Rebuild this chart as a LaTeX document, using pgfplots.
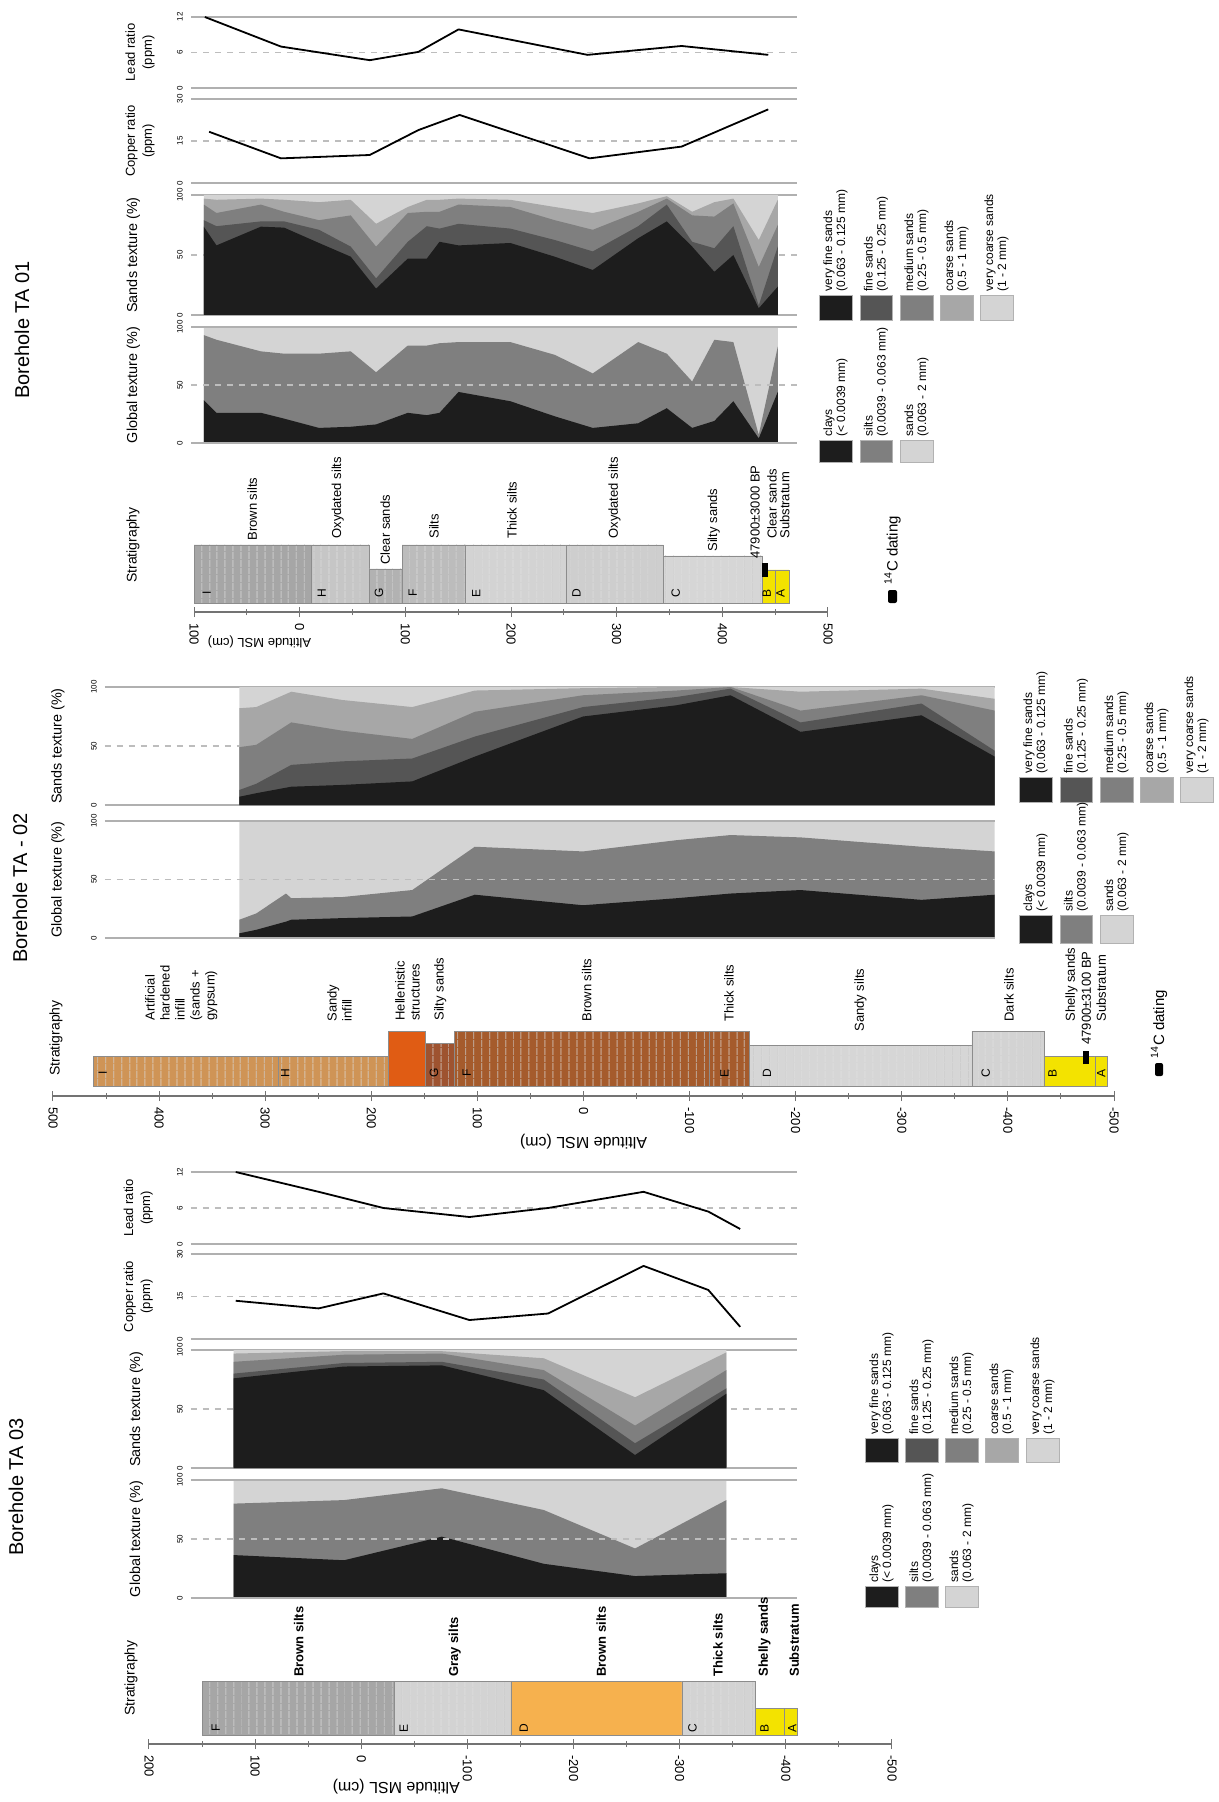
\documentclass[border=0pt]{standalone}
\usepackage{fontspec}
\setmainfont{Liberation Sans}
\usepackage{pgfplots}
\usepackage{pgfplotstable}
\pgfplotsset{compat=1.18}
\usetikzlibrary{patterns.meta}

\definecolor{cVF}{HTML}{1D1D1D}
\definecolor{cF}{HTML}{555555}
\definecolor{cM}{HTML}{7F7F7F}
\definecolor{cC}{HTML}{A7A7A7}
\definecolor{cVC}{HTML}{D4D4D4}
\definecolor{gl}{HTML}{B0B0B0}
\definecolor{gd}{HTML}{BDBDBD}
\definecolor{yel}{HTML}{F3E300}
\definecolor{tanc}{HTML}{CF9456}
\definecolor{orac}{HTML}{E05C14}
\definecolor{brnc}{HTML}{A55B2C}
\definecolor{brgc}{HTML}{9E5330}
\definecolor{orgc}{HTML}{F6B14E}
\definecolor{sA}{HTML}{A6A6A6}
\definecolor{sB}{HTML}{C6C6C6}
\definecolor{sC}{HTML}{B2B2B2}
\definecolor{sD}{HTML}{BCBCBC}
\definecolor{sE}{HTML}{D3D3D3}
\definecolor{sF}{HTML}{CECECE}
\definecolor{sG}{HTML}{D6D6D6}

\newcommand{\fsz}[2]{\fontsize{#1pt}{#2pt}\selectfont}

% ---------------- TA 01 ----------------
\pgfplotstableread{
v y
-90 12
-18 7.0
66 4.7
112 6.1
150 9.9
272 5.6
361 7.1
443 5.6
}\leadA
\pgfplotstableread{
v y
-86 18.3
-18 8.8
66 10
112 18.9
151 24.3
274 8.8
361 13
443 26.3
}\copA
\pgfplotstableread{
v vf f m c vc
-91 73.6 79 92 97 100
-79 58 74 85 96 100
-37 73.6 78 92 97 100
-15 72.8 78 86 96 100
18 60 71 79 94 100
48 48.6 57 83 96 100
72 22 30.5 57 76 100
102 47 61 85 90 100
120 47 74 86 96 100
132 61 72 86 96 100
150 58 76 92 97 100
199 60 72 90 96 100
241 48.6 62.5 79 90 100
277 37.5 53 71 85 100
320 64 74 86 93 100
347 78 92 97 99 100
371 57 61 83 86 100
392 36 55.6 82 94 100
410 50 74 93 97 100
434 5.6 8 40 62.5 100
452 23.6 57 75 96 100
}\sandA
\pgfplotstableread{
v cl si sa
-91 37 93 100
-79 26 89 100
-37 26 79 100
-15 21 77 100
18 13 77 100
48 14 79 100
72 16 61 100
102 26 84 100
120 24 84 100
132 26 86 100
150 44 87 100
199 36 87 100
241 23 76 100
277 13 60 100
320 17 87 100
347 30 77 100
371 13 53 100
392 19 89 100
410 36 87 100
434 4 7 100
452 44 83 100
}\globA
% ---------------- TA 02 ----------------
\pgfplotstableread{
v vf f m c vc
323 7 12.7 49 82 100
307 10 18 51 83 100
274 15.5 34 70 96 100
226 17 37 63 89 100
160 20 39.4 56 83 100
101 41 58 79 97 100
-1 75 83 93 99 100
-89 84.5 91.5 97 100 100
-140 93 98.6 100 100 100
-206 62 70 80 96 100
-320 76 86 93 98.6 100
-389 41 46 80 90 100
}\sandB
\pgfplotstableread{
v cl si sa
323 4 15.6 100
307 7 21 100
279 14 38 100
274 15.6 34 100
226 17 35 100
160 18.4 41 100
101 37 78 100
-1 28 74 100
-89 34 83.6 100
-140 38 88 100
-206 41 86 100
-320 32.6 78 100
-389 37 74 100
}\globB
% ---------------- TA 03 ----------------
\pgfplotstableread{
v y
117 12
39 8.7
-22 6
-103 4.5
-177 6
-267 8.7
-328 5.4
-358 2.5
}\leadC
\pgfplotstableread{
v y
117 13.5
39 10.8
-22 16.1
-103 6.7
-177 9
-267 25.8
-328 17.3
-358 4.3
}\copC
\pgfplotstableread{
v vf f m c vc
119 76 80 90 97 100
15 86 89 96 99 100
-77 87 90 97 99 100
-173 66 75 83 93 100
-259 11 21 36 60 100
-345 63 67.5 83 98 100
}\sandC
\pgfplotstableread{
v cl si sa
119 36.4 80 100
15 32 83 100
-77 52 93 100
-173 29 74.6 100
-259 18.6 42 100
-345 21 83 100
}\globC

\pgfplotsset{
  panel/.style={
    scale only axis, anchor=south west, clip=false,
    axis line style={draw=none},
    xtick=\empty,
    major tick length=0pt,
    yticklabel style={rotate=90, anchor=south, font=\fsz{4}{4}, inner sep=0.5pt},
    yticklabel shift=3.5pt,
    /pgf/number format/assume math mode=true,
  },
  strat/.style={
    scale only axis, anchor=south west, clip=false,
    axis x line=bottom, axis y line=none,
    x axis line style={-, draw=black!55, line width=0.6pt},
    ymin=0,
    minor x tick num=1,
    xtick align=center,
    major tick length=5pt, minor tick length=3pt,
    tick style={black!55, line width=0.5pt},
    xticklabel style={rotate=-90, anchor=west, font=\fsz{6.5}{7}, inner sep=0.5pt},
    xticklabel shift=2.5pt,
  },
}
\tikzset{
  slab/.style={rotate=90, anchor=west, font=\fsz{6.5}{7.5}, inner sep=0.5pt, align=left},
  slabb/.style={rotate=90, anchor=west, font=\fsz{6.5}{7.5}\bfseries, inner sep=0.5pt, align=left},
  ltr/.style={rotate=90, font=\fsz{6}{6}, inner sep=0pt},
  ylab/.style={rotate=90, align=center, font=\fsz{7.2}{9}},
  rlab/.style={rotate=90, align=center, font=\fsz{6.5}{8.5}},
}
\newcommand{\frameLines}{%
  \draw[gl, line width=1.1pt] (axis description cs:0,0) -- (axis description cs:1,0);
  \draw[gl, line width=1.1pt] (axis description cs:0,1) -- (axis description cs:1,1);}
\newcommand{\midLine}{%
  \draw[gd, line width=0.6pt, dash pattern=on 3pt off 3pt] (axis description cs:0,0.5) -- (axis description cs:1,0.5);}
\newcommand{\sbx}[5]{%
  \addplot[fill=#1, draw=black!45, line width=0.3pt,
    postaction={pattern={Lines[angle=90,distance=4pt,line width=0.25pt]}, pattern color=black!22}]
    coordinates {(#2,#4) (#3,#4) (#3,#5) (#2,#5) (#2,#4)};}
\newcommand{\sbxp}[5]{%
  \addplot[fill=#1, draw=black!45, line width=0.3pt]
    coordinates {(#2,#4) (#3,#4) (#3,#5) (#2,#5) (#2,#4)};}
\newcommand{\sandfill}[1]{%
  \addplot[fill=cVC, draw=none] table[x=v,y=vc] {#1} \closedcycle;
  \addplot[fill=cC, draw=none] table[x=v,y=c] {#1} \closedcycle;
  \addplot[fill=cM, draw=none] table[x=v,y=m] {#1} \closedcycle;
  \addplot[fill=cF, draw=none] table[x=v,y=f] {#1} \closedcycle;
  \addplot[fill=cVF, draw=none] table[x=v,y=vf] {#1} \closedcycle;}
\newcommand{\globfill}[1]{%
  \addplot[fill=cVC, draw=none] table[x=v,y=sa] {#1} \closedcycle;
  \addplot[fill=cM, draw=none] table[x=v,y=si] {#1} \closedcycle;
  \addplot[fill=cVF, draw=none] table[x=v,y=cl] {#1} \closedcycle;}
\newcommand{\legsw}[5]{\filldraw[fill=#1, draw=black!30, line width=0.3pt] (#2,#3) rectangle (#4,#5);}
\newcommand{\legtxt}[3]{\node[rotate=90, anchor=west, align=left, font=\fsz{6}{6.6}, inner sep=0pt] at (#1,#2) {#3};}

\begin{document}
\begin{tikzpicture}
\path[use as bounding box] (0,0) rectangle (609.5pt,-901pt);
\fill[white] (0,0) rectangle (609.5pt,-901pt);

% ================= TA 01 =================
\begin{axis}[panel, at={(95.5pt,-44pt)}, width=303pt, height=35.5pt,
  xmin=-103.1, xmax=470.2, ymin=0, ymax=12, ytick={0,6,12}]
\midLine\frameLines
\addplot[black, line width=0.9pt, line join=round] table[x=v,y=y] {\leadA};
\node[rlab] at (axis description cs:-0.084,0.5) {Lead ratio\\(ppm)};
\end{axis}
\begin{axis}[panel, at={(95.5pt,-91.5pt)}, width=303pt, height=42pt,
  xmin=-103.1, xmax=470.2, ymin=0, ymax=30, ytick={0,15,30}]
\midLine\frameLines
\addplot[black, line width=0.9pt, line join=round] table[x=v,y=y] {\copA};
\node[rlab] at (axis description cs:-0.084,0.5) {Copper ratio\\(ppm)};
\end{axis}
\begin{axis}[panel, at={(95.5pt,-157.5pt)}, width=303pt, height=60pt,
  xmin=-103.1, xmax=470.2, ymin=0, ymax=100, ytick={0,50,100}]
\midLine\frameLines
\sandfill{\sandA}
\node[ylab] at (axis description cs:-0.095,0.5) {Sands texture (\%)};
\end{axis}
\begin{axis}[panel, at={(95.5pt,-221.5pt)}, width=303pt, height=58pt,
  xmin=-103.1, xmax=470.2, ymin=0, ymax=100, ytick={0,50,100}]
\globfill{\globA}
\midLine\frameLines
\node[ylab] at (axis description cs:-0.095,0.5) {Global texture (\%)};
\end{axis}
\begin{axis}[strat, at={(97pt,-306pt)}, width=317pt, height=33.5pt,
  xmin=-100, xmax=500, ymax=67,
  xtick={-100,0,100,200,300,400,500}, xticklabels={100,0,100,200,300,400,500}]
\sbx{sA}{-100}{11}{9}{67}
\sbx{sB}{11}{66}{9}{67}
\sbx{sC}{66}{97}{9}{43}
\sbx{sD}{97}{157}{9}{67}
\sbx{sE}{157}{252}{9}{67}
\sbx{sF}{252}{344}{9}{67}
\sbx{sG}{344}{438}{9}{56}
\sbxp{yel}{438}{450}{9}{42}
\sbxp{yel}{450}{463}{9}{42}
\addplot[black, line width=3pt] coordinates {(440,35) (440,49)};
\node[slab] at (axis cs:-45,70) {Brown silts};
\node[slab] at (axis cs:36,72) {Oxydated silts};
\node[slab] at (axis cs:81,46) {Clear sands};
\node[slab] at (axis cs:127,72) {Silts};
\node[slab] at (axis cs:201,72) {Thick silts};
\node[slab] at (axis cs:298,72) {Oxydated silts};
\node[slab] at (axis cs:392,59) {Silty sands};
\node[slab] at (axis cs:431,52) {47900±3000 BP};
\node[slab] at (axis cs:447,72) {Clear sands};
\node[slab] at (axis cs:459,72) {Substratum};
\node[ltr] at (axis cs:-88,19) {I};
\node[ltr] at (axis cs:21,19) {H};
\node[ltr] at (axis cs:75,19) {G};
\node[ltr] at (axis cs:107,19) {F};
\node[ltr] at (axis cs:167,19) {E};
\node[ltr] at (axis cs:262,19) {D};
\node[ltr] at (axis cs:356,19) {C};
\node[ltr] at (axis cs:442,19) {B};
\node[ltr] at (axis cs:455,19) {A};
\node[rotate=180, font=\fsz{6.5}{7}] at (axis cs:-38,-30) {Altitude MSL (cm)};
\end{axis}

% ================= TA 02 =================
\begin{axis}[panel, at={(52.5pt,-402.5pt)}, width=445pt, height=59pt, x dir=reverse,
  xmin=-389.26, xmax=449.58, ymin=0, ymax=100, ytick={0,50,100}]
\midLine\frameLines
\sandfill{\sandB}
\node[ylab] at (axis description cs:-0.053,0.5) {Sands texture (\%)};
\end{axis}
\begin{axis}[panel, at={(52.5pt,-469pt)}, width=445pt, height=58.5pt, x dir=reverse,
  xmin=-389.26, xmax=449.58, ymin=0, ymax=100, ytick={0,50,100}]
\globfill{\globB}
\midLine\frameLines
\node[ylab] at (axis description cs:-0.053,0.5) {Global texture (\%)};
\end{axis}
\begin{axis}[strat, at={(26.5pt,-548pt)}, width=530.5pt, height=32.5pt, x dir=reverse,
  xmin=-500, xmax=500, ymax=65,
  xtick={-500,-400,-300,-200,-100,0,100,200,300,400,500},
  xticklabels={-500,-400,-300,-200,-100,0,100,200,300,400,500}]
\sbx{tanc}{288}{462}{10}{40}
\sbx{tanc}{184}{288}{10}{40}
\sbxp{orac}{149}{184}{10}{65}
\sbx{brgc}{122}{149}{10}{53}
\sbx{brnc}{-119}{122}{10}{65}
\sbx{brnc}{-156}{-119}{10}{65}
\sbx{sG}{-366}{-156}{10}{51}
\sbx{sE}{-434}{-366}{10}{65}
\sbxp{yel}{-482}{-434}{10}{40}
\sbxp{yel}{-494}{-482}{10}{40}
\addplot[black, line width=3pt] coordinates {(-474,32) (-474,45)};
\node[slab] at (axis cs:379,74) {Artificial\\hardened\\infill\\(sands +\\gypsum)};
\node[slab] at (axis cs:230,73) {Sandy\\infill};
\node[slab] at (axis cs:166,74) {Hellenistic\\structures};
\node[slab] at (axis cs:135,74) {Silty sands};
\node[slab] at (axis cs:-3,73) {Brown silts};
\node[slab] at (axis cs:-137,73) {Thick silts};
\node[slab] at (axis cs:-261,63) {Sandy silts};
\node[slab] at (axis cs:-401,73) {Dark silts};
\node[slab] at (axis cs:-460,73) {Shelly sands};
\node[slab] at (axis cs:-474,50) {47900±3100 BP};
\node[slab] at (axis cs:-488,73) {Substratum};
\node[ltr] at (axis cs:453,23) {I};
\node[ltr] at (axis cs:281,23) {H};
\node[ltr] at (axis cs:141,23) {G};
\node[ltr] at (axis cs:110,23) {F};
\node[ltr] at (axis cs:-133,23) {E};
\node[ltr] at (axis cs:-173,23) {D};
\node[ltr] at (axis cs:-379,23) {C};
\node[ltr] at (axis cs:-442,23) {B};
\node[ltr] at (axis cs:-488,23) {A};
\node[rotate=180, font=\fsz{8}{9}] at (axis cs:0,-46) {Altitude MSL (cm)};
\end{axis}

% ================= TA 03 =================
\begin{axis}[panel, at={(95.5pt,-622pt)}, width=303pt, height=36pt, x dir=reverse,
  xmin=-411.49, xmax=159.13, ymin=0, ymax=12, ytick={0,6,12}]
\midLine\frameLines
\addplot[black, line width=0.9pt, line join=round] table[x=v,y=y] {\leadC};
\node[rlab] at (axis description cs:-0.087,0.5) {Lead ratio\\(ppm)};
\end{axis}
\begin{axis}[panel, at={(95.5pt,-669.5pt)}, width=303pt, height=42.5pt, x dir=reverse,
  xmin=-411.49, xmax=159.13, ymin=0, ymax=30, ytick={0,15,30}]
\midLine\frameLines
\addplot[black, line width=0.9pt, line join=round] table[x=v,y=y] {\copC};
\node[rlab] at (axis description cs:-0.087,0.5) {Copper ratio\\(ppm)};
\end{axis}
\begin{axis}[panel, at={(95.5pt,-734pt)}, width=303pt, height=59pt, x dir=reverse,
  xmin=-411.49, xmax=159.13, ymin=0, ymax=100, ytick={0,50,100}]
\midLine\frameLines
\sandfill{\sandC}
\node[ylab] at (axis description cs:-0.09,0.5) {Sands texture (\%)};
\end{axis}
\begin{axis}[panel, at={(95.5pt,-799pt)}, width=303pt, height=59pt, x dir=reverse,
  xmin=-411.49, xmax=159.13, ymin=0, ymax=100, ytick={0,50,100}]
\globfill{\globC}
\midLine\frameLines
\node[ylab] at (axis description cs:-0.09,0.5) {Global texture (\%)};
\end{axis}
\begin{axis}[strat, at={(74.5pt,-872pt)}, width=371.5pt, height=31.5pt, x dir=reverse,
  xmin=-500, xmax=200, ymax=63,
  xtick={-500,-400,-300,-200,-100,0,100,200},
  xticklabels={-500,-400,-300,-200,-100,0,100,200}]
\sbx{sA}{-31}{150}{9}{63}
\sbx{sE}{-141}{-31}{9}{63}
\sbxp{orgc}{-302}{-141}{9}{63}
\sbx{sE}{-371}{-302}{9}{63}
\sbxp{yel}{-399}{-371}{9}{36}
\sbxp{yel}{-411}{-399}{9}{36}
\node[slabb] at (axis cs:59,66) {Brown silts};
\node[slabb] at (axis cs:-88,66) {Gray silts};
\node[slabb] at (axis cs:-226,66) {Brown silts};
\node[slabb] at (axis cs:-336,66) {Thick silts};
\node[slabb] at (axis cs:-380,66) {Shelly sands};
\node[slabb] at (axis cs:-408,66) {Substratum};
\node[ltr] at (axis cs:137,16) {F};
\node[ltr] at (axis cs:-40,16) {E};
\node[ltr] at (axis cs:-153,16) {D};
\node[ltr] at (axis cs:-312,16) {C};
\node[ltr] at (axis cs:-380,16) {B};
\node[ltr] at (axis cs:-406,16) {A};
\node[rotate=180, font=\fsz{8}{9}] at (axis cs:-33,-43) {Altitude MSL (cm)};
\end{axis}

% ================= titles & legends =================
\begin{scope}[x=0.5pt, y=-0.5pt]
\node[rotate=90, font=\fsz{10}{12}] at (22,330) {Borehole TA 01};
\node[rotate=90, font=\fsz{10}{12}] at (20,888) {Borehole TA - 02};
\node[rotate=90, font=\fsz{10}{12}] at (16,1487) {Borehole TA 03};
\node[rotate=90, font=\fsz{7}{8}] at (133,545) {Stratigraphy};
\node[rotate=90, font=\fsz{7}{8}] at (56,1038) {Stratigraphy};
\node[rotate=90, font=\fsz{7}{8}] at (131,1678) {Stratigraphy};
% TA01 legends
\legsw{cVF}{819}{295}{852}{320} \legtxt{835.5}{292}{very fine sands\\(0.063 - 0.125 mm)}
\legsw{cF}{860}{295}{892}{320} \legtxt{876}{292}{fine sands\\(0.125 - 0.25 mm)}
\legsw{cM}{900}{295}{933}{320} \legtxt{916.5}{292}{medium sands\\(0.25 - 0.5 mm)}
\legsw{cC}{940}{295}{973}{320} \legtxt{956.5}{292}{coarse sands\\(0.5 - 1 mm)}
\legsw{cVC}{980}{295}{1013}{320} \legtxt{996.5}{292}{very coarse sands\\(1 - 2 mm)}
\legsw{cVF}{819}{440}{852}{462} \legtxt{835.5}{437}{clays\\(< 0.0039 mm)}
\legsw{cM}{860}{440}{892}{462} \legtxt{876}{437}{silts\\(0.0039 - 0.063 mm)}
\legsw{cVC}{900}{440}{933}{462} \legtxt{916.5}{437}{sands\\(0.063 - 2 mm)}
\fill[black, rounded corners=1pt] (888,590) rectangle (897,603);
\node[rotate=90, anchor=west, font=\fsz{7.5}{8}, inner sep=0pt] at (892.5,585) {\textsuperscript{14}C dating};
% TA02 legends
\legsw{cVF}{1019}{777}{1052}{802} \legtxt{1035.5}{774}{very fine sands\\(0.063 - 0.125 mm)}
\legsw{cF}{1060}{777}{1092}{802} \legtxt{1076}{774}{fine sands\\(0.125 - 0.25 mm)}
\legsw{cM}{1100}{777}{1133}{802} \legtxt{1116.5}{774}{medium sands\\(0.25 - 0.5 mm)}
\legsw{cC}{1140}{777}{1173}{802} \legtxt{1156.5}{774}{coarse sands\\(0.5 - 1 mm)}
\legsw{cVC}{1180}{777}{1213}{802} \legtxt{1196.5}{774}{very coarse sands\\(1 - 2 mm)}
\legsw{cVF}{1019}{915}{1052}{943} \legtxt{1035.5}{912}{clays\\(< 0.0039 mm)}
\legsw{cM}{1060}{915}{1092}{943} \legtxt{1076}{912}{silts\\(0.0039 - 0.063 mm)}
\legsw{cVC}{1100}{915}{1133}{943} \legtxt{1116.5}{912}{sands\\(0.063 - 2 mm)}
\fill[black, rounded corners=1pt] (1155,1063) rectangle (1163,1076);
\node[rotate=90, anchor=west, font=\fsz{7.5}{8}, inner sep=0pt] at (1159,1059) {\textsuperscript{14}C dating};
% TA03 legends
\legsw{cVF}{865}{1438}{898}{1462} \legtxt{881.5}{1435}{very fine sands\\(0.063 - 0.125 mm)}
\legsw{cF}{905}{1438}{938}{1462} \legtxt{921.5}{1435}{fine sands\\(0.125 - 0.25 mm)}
\legsw{cM}{945}{1438}{978}{1462} \legtxt{961.5}{1435}{medium sands\\(0.25 - 0.5 mm)}
\legsw{cC}{985}{1438}{1018}{1462} \legtxt{1001.5}{1435}{coarse sands\\(0.5 - 1 mm)}
\legsw{cVC}{1026}{1438}{1059}{1462} \legtxt{1042.5}{1435}{very coarse sands\\(1 - 2 mm)}
\legsw{cVF}{865}{1586}{898}{1607} \legtxt{881.5}{1583}{clays\\(< 0.0039 mm)}
\legsw{cM}{905}{1586}{938}{1607} \legtxt{921.5}{1583}{silts\\(0.0039 - 0.063 mm)}
\legsw{cVC}{945}{1586}{978}{1607} \legtxt{961.5}{1583}{sands\\(0.063 - 2 mm)}
\end{scope}
\end{tikzpicture}
\end{document}
